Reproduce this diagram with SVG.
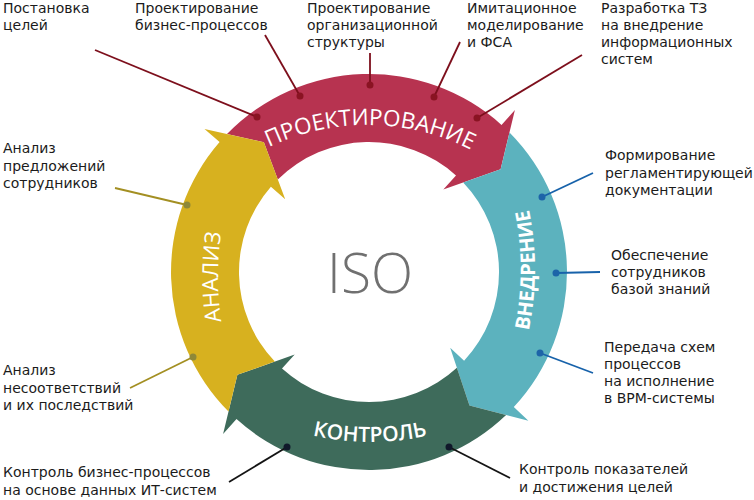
<svg xmlns="http://www.w3.org/2000/svg" width="754" height="500" viewBox="0 0 754 500">
<style>
.lbl{font-family:"DejaVu Sans","Noto Sans",sans-serif;font-size:14px;fill:#1b1b1b}
.seg{font-family:"Open Sans","Noto Sans",sans-serif;fill:#fff}
.ln{stroke-width:1.8;fill:none}
.red{stroke:#7d0f1c}.redd{fill:#8a1322}
.blu{stroke:#1762aa}.blud{fill:#1d64a8}
.olv{stroke:#a38f22}.olvd{fill:#8e8838}
.blk{stroke:#141414}.blkd{fill:#10182a}
</style>
<defs>
<path id="pProj" d="M219.2,178.8 A230,230 0 0 1 514.8,178.8"/>
<path id="pKontr" d="M260.1,417.6 A260,260 0 0 0 479.9,417.6"/>
<path id="pVned" d="M516.9,372.6 A300,300 0 0 0 516.9,167.4"/>
<path id="pAnal" d="M236.1,379.6 A300,300 0 0 1 236.1,174.4"/>
</defs>
<rect width="754" height="500" fill="#fff"/>

<g id="proektirovanie">
<path fill="#b73350" d="M227.0,134.0 A198,198 0 0 1 501.5,124.9 L514.9,110.0 L500.6,169.2 L443.3,189.5 L456.0,175.4 A130,130 0 0 0 277.8,179.4 L263.9,142.2 Z"/>
<text class="seg" font-size="22.5"><textPath href="#pProj" startOffset="51%" text-anchor="middle">ПРОЕКТИРОВАНИЕ</textPath></text>
</g>
<g id="vnedrenie">
<path fill="#5cb2be" d="M509.5,132.5 A198,198 0 0 1 513.8,407.0 L528.4,420.7 L469.5,405.4 L450.2,347.7 L464.1,360.7 A130,130 0 0 0 463.2,182.4 L500.6,169.2 Z"/>
<text class="seg" font-size="20" font-weight="700"><textPath href="#pVned" startOffset="50%" text-anchor="middle">ВНЕДРЕНИЕ</textPath></text>
</g>
<g id="kontrol">
<path fill="#3e6b5b" d="M506.1,414.9 A198,198 0 0 1 236.5,419.1 L223.1,434.0 L237.4,374.8 L294.7,354.5 L282.0,368.6 A130,130 0 0 0 456.9,367.8 L469.5,405.4 Z"/>
<text class="seg" font-size="21" font-weight="600"><textPath href="#pKontr" startOffset="50%" text-anchor="middle">КОНТРОЛЬ</textPath></text>
</g>
<g id="analiz">
<path fill="#d7b11f" d="M228.5,411.5 A198,198 0 0 1 219.6,142.1 L204.5,129.0 L263.9,142.2 L285.2,199.2 L270.9,186.7 A130,130 0 0 0 274.8,361.6 L237.4,374.8 Z"/>
<text class="seg" font-size="22"><textPath href="#pAnal" startOffset="50%" text-anchor="middle">АНАЛИЗ</textPath></text>
</g>
<g id="iso">
<text x="370" y="293" font-family="Open Sans, Noto Sans, sans-serif" font-size="55" font-weight="300" fill="#707070" text-anchor="middle">ISO</text>
</g>

<g id="connectors">
<line class="ln red" x1="95" y1="50" x2="257" y2="117"/>
<line class="ln red" x1="265" y1="35" x2="300" y2="96"/>
<line class="ln red" x1="370" y1="53" x2="370" y2="85"/>
<line class="ln red" x1="460" y1="42" x2="434" y2="97"/>
<line class="ln red" x1="582" y1="55" x2="477" y2="118"/>
<circle class="redd" cx="257" cy="117" r="3.5"/>
<circle class="redd" cx="300" cy="96" r="3.5"/>
<circle class="redd" cx="370" cy="85" r="3.5"/>
<circle class="redd" cx="434" cy="97" r="3.5"/>
<circle class="redd" cx="477" cy="118" r="3.5"/>
<line class="ln blu" x1="593" y1="173" x2="542" y2="197"/>
<line class="ln blu" x1="600" y1="272" x2="556" y2="273"/>
<line class="ln blu" x1="593" y1="373" x2="540" y2="353"/>
<circle class="blud" cx="542" cy="197" r="3.5"/>
<circle class="blud" cx="556" cy="273" r="3.5"/>
<circle class="blud" cx="540" cy="353" r="3.5"/>
<line class="ln olv" x1="115" y1="188" x2="187" y2="205"/>
<line class="ln olv" x1="130" y1="388" x2="193" y2="357"/>
<circle class="olvd" cx="187" cy="205" r="3.5"/>
<circle class="olvd" cx="193" cy="357" r="3.5"/>
<line class="ln blk" x1="229" y1="482" x2="287" y2="447"/>
<line class="ln blk" x1="510" y1="478" x2="449" y2="447"/>
<circle class="blkd" cx="287" cy="447" r="3.5"/>
<circle class="blkd" cx="449" cy="447" r="3.5"/>
</g>

<g id="lbl-postanovka"><text class="lbl" x="3" y="13">Постановка</text><text class="lbl" x="3" y="30">целей</text></g>
<g id="lbl-biznes"><text class="lbl" x="135" y="13">Проектирование</text><text class="lbl" x="135" y="30">бизнес-процессов</text></g>
<g id="lbl-org"><text class="lbl" x="307" y="13">Проектирование</text><text class="lbl" x="307" y="30">организационной</text><text class="lbl" x="307" y="47">структуры</text></g>
<g id="lbl-imit"><text class="lbl" x="467" y="13">Имитационное</text><text class="lbl" x="467" y="30">моделирование</text><text class="lbl" x="467" y="47">и ФСА</text></g>
<g id="lbl-tz"><text class="lbl" x="601" y="13">Разработка ТЗ</text><text class="lbl" x="601" y="30">на внедрение</text><text class="lbl" x="601" y="47">информационных</text><text class="lbl" x="601" y="64">систем</text></g>
<g id="lbl-reglament"><text class="lbl" x="605" y="160">Формирование</text><text class="lbl" x="605" y="177.5">регламентирующей</text><text class="lbl" x="605" y="195">документации</text></g>
<g id="lbl-baza"><text class="lbl" x="611" y="260">Обеспечение</text><text class="lbl" x="611" y="277">сотрудников</text><text class="lbl" x="611" y="294">базой знаний</text></g>
<g id="lbl-bpm"><text class="lbl" x="604" y="352">Передача схем</text><text class="lbl" x="604" y="369">процессов</text><text class="lbl" x="604" y="386">на исполнение</text><text class="lbl" x="604" y="403">в BPM-системы</text></g>
<g id="lbl-predl"><text class="lbl" x="3" y="153">Анализ</text><text class="lbl" x="3" y="170.5">предложений</text><text class="lbl" x="3" y="188">сотрудников</text></g>
<g id="lbl-nesoot"><text class="lbl" x="3" y="375">Анализ</text><text class="lbl" x="3" y="392.5">несоответствий</text><text class="lbl" x="3" y="410">и их последствий</text></g>
<g id="lbl-kontrbp"><text class="lbl" x="3" y="477">Контроль бизнес-процессов</text><text class="lbl" x="3" y="495">на основе данных ИТ-систем</text></g>
<g id="lbl-kontrpok"><text class="lbl" x="519" y="474">Контроль показателей</text><text class="lbl" x="519" y="492">и достижения целей</text></g>
</svg>
